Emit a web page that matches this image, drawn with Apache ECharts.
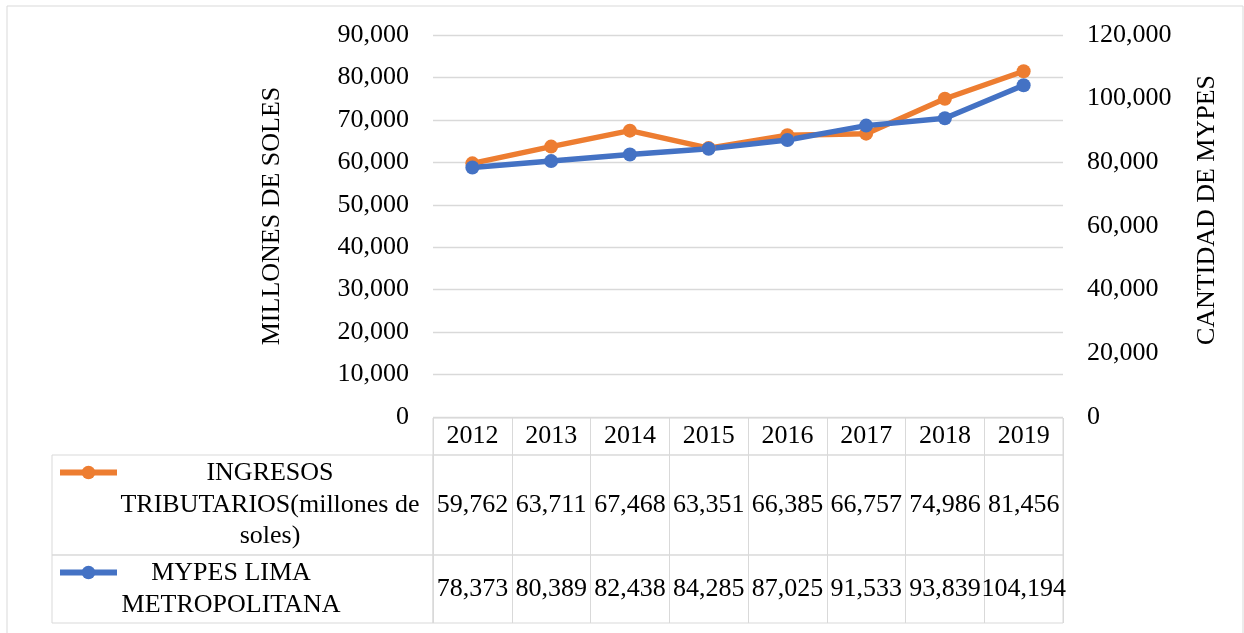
<!DOCTYPE html>
<html>
<head>
<meta charset="utf-8">
<script src="https://cdn.jsdelivr.net/npm/echarts@6/dist/echarts.min.js"></script>
<style>
  html, body { margin: 0; padding: 0; background: #fff; }
  #chart { width: 1244px; height: 633px; }
</style>
</head>
<body>
<div id="chart"></div>
<script>
// datos del grafico
const years = ['2012', '2013', '2014', '2015', '2016', '2017', '2018', '2019']
const ingresos = [59762, 63711, 67468, 63351, 66385, 66757, 74986, 81456]
const mypes = [78373, 80389, 82438, 84285, 87025, 91533, 93839, 104194]
const seriesNames = ['INGRESOS TRIBUTARIOS(millones de soles)', 'MYPES LIMA METROPOLITANA']
const rowLabels = ['INGRESOS\nTRIBUTARIOS(millones de\nsoles)', 'MYPES LIMA\nMETROPOLITANA']
const colors = ['#ED7D31', '#4472C4']

const font = 'Liberation Serif'
const border = '#d9d9d9'
const fmt = v => Number(v).toLocaleString('en-US')

const chart = echarts.init(document.getElementById('chart'))

// ejes ocultos para las celdas de la tabla
function hidden(type, gridIndex) {
  return { type: type, gridIndex: gridIndex, show: false }
}
// fila de la tabla de datos
function rowAxis(gridIndex, height, formatter) {
  return {
    type: 'category', gridIndex: gridIndex, data: years, boundaryGap: true,
    axisLine: { show: false }, axisTick: { show: false },
    splitLine: { show: true, lineStyle: { color: border, width: 1 } },
    axisLabel: {
      interval: 0, margin: -height / 2, verticalAlign: 'middle',
      fontFamily: font, fontSize: 26, color: '#000',
      formatter: formatter
    }
  }
}
function nameAxis(gridIndex, label, center) {
  return {
    type: 'category', gridIndex: gridIndex, data: [label],
    axisLine: { show: false }, axisTick: { show: false },
    axisLabel: {
      align: 'center', margin: -(center - 52), lineHeight: 31.5,
      fontFamily: font, fontSize: 26, color: '#000'
    }
  }
}
function box(left, top, width, height) {
  return { left: left, top: top, width: width, height: height, show: true,
    borderColor: border, borderWidth: 1, backgroundColor: 'transparent', outerBoundsMode: 'none' }
}

const option = {
  animation: false,
  backgroundColor: '#fff',
  grid: [
    { left: 433, top: 35, width: 630, height: 382, outerBoundsMode: 'none' },
    box(433, 418, 630, 37),
    box(433, 455, 630, 100),
    box(433, 555, 630, 68),
    box(52, 455, 381, 100),
    box(52, 555, 381, 68),
    box(7, 6, 1236, 700)
  ],
  legend: [
    { data: [seriesNames[0]], left: 57, top: 464, padding: 0, itemWidth: 57, itemHeight: 17,
      selectedMode: false, formatter: () => '', textStyle: { fontSize: 10 }, lineStyle: { width: 6 } },
    { data: [seriesNames[1]], left: 57, top: 564, padding: 0, itemWidth: 57, itemHeight: 17,
      selectedMode: false, formatter: () => '', textStyle: { fontSize: 10 }, lineStyle: { width: 6 } }
  ],
  xAxis: [
    { type: 'category', gridIndex: 0, data: years, boundaryGap: true,
      axisLine: { show: false }, axisTick: { show: false }, axisLabel: { show: false } },
    rowAxis(1, 37),
    rowAxis(2, 100, (v, i) => fmt(ingresos[i])),
    rowAxis(3, 68, (v, i) => fmt(mypes[i])),
    hidden('value', 4),
    hidden('value', 5),
    hidden('value', 6)
  ],
  yAxis: [
    { type: 'value', gridIndex: 0, min: 0, max: 90000, interval: 10000,
      name: 'MILLONES DE SOLES', nameLocation: 'middle', nameGap: 148, nameRotate: 90,
      nameTextStyle: { fontFamily: font, fontSize: 26, color: '#000', padding: [0, 0, 0, 20] },
      axisLine: { show: false }, axisTick: { show: false },
      splitLine: { lineStyle: { color: border, width: 1.3 } },
      axisLabel: { margin: 24, fontFamily: font, fontSize: 26, color: '#000', formatter: fmt } },
    { type: 'value', gridIndex: 0, position: 'right', min: 0, max: 120000, interval: 20000,
      name: 'CANTIDAD DE MYPES', nameLocation: 'middle', nameGap: 131, nameRotate: 90,
      nameTextStyle: { fontFamily: font, fontSize: 26, color: '#000', padding: [0, 0, 0, 32] },
      axisLine: { show: false }, axisTick: { show: false }, splitLine: { show: false },
      axisLabel: { margin: 24, fontFamily: font, fontSize: 26, color: '#000', formatter: fmt } },
    hidden('value', 1),
    hidden('value', 2),
    hidden('value', 3),
    nameAxis(4, rowLabels[0], 270),
    nameAxis(5, rowLabels[1], 231),
    hidden('value', 6)
  ],
  series: [
    { name: seriesNames[0], type: 'line', xAxisIndex: 0, yAxisIndex: 0, data: ingresos,
      symbol: 'circle', symbolSize: 14, color: colors[0],
      lineStyle: { width: 5.5, color: colors[0] }, itemStyle: { color: colors[0] } },
    { name: seriesNames[1], type: 'line', xAxisIndex: 0, yAxisIndex: 1, data: mypes,
      symbol: 'circle', symbolSize: 14, color: colors[1],
      lineStyle: { width: 5.5, color: colors[1] }, itemStyle: { color: colors[1] } }
  ]
}
chart.setOption(option)
</script>
</body>
</html>
